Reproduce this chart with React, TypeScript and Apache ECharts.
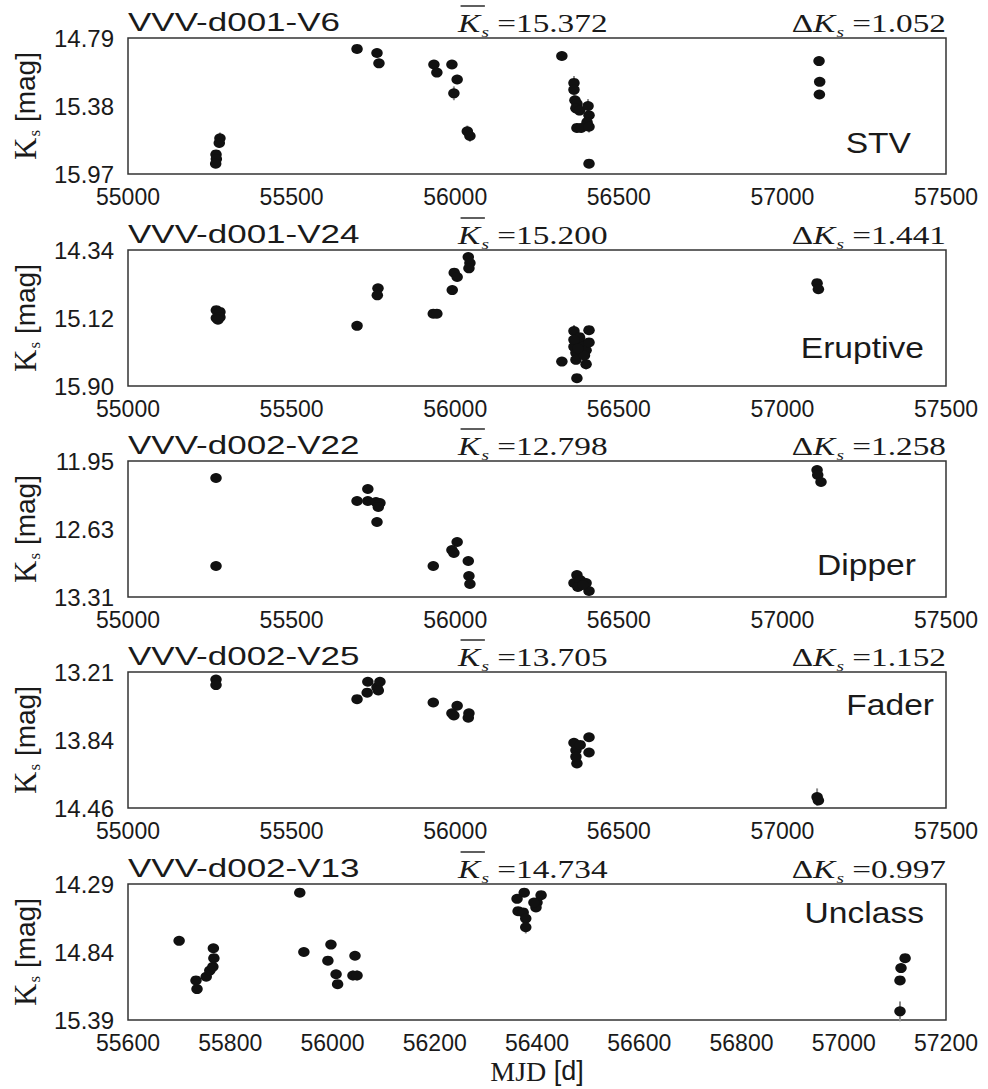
import React, { useEffect, useRef } from "react";
import * as echarts from "echarts";

// ---------- data ----------
const stvMjd = [55269, 55270, 55268, 55281, 55279, 55700, 55761, 55767, 55935, 55944, 55990, 56006, 55996, 56037, 56045, 56326, 56363, 56363, 56366, 56372, 56369, 56380, 56406, 56409, 56403, 56372, 56385, 56409, 56409, 57112, 57114, 57113];
const stvMag = [15.80, 15.84, 15.88, 15.66, 15.70, 14.885, 14.92, 15.01, 15.02, 15.09, 15.02, 15.15, 15.27, 15.60, 15.64, 14.946, 15.18, 15.24, 15.33, 15.36, 15.40, 15.42, 15.38, 15.46, 15.52, 15.57, 15.57, 15.56, 15.88, 14.99, 15.17, 15.28];
const stvErr = [0.03, 0.03, 0.03, 0.05, 0.04, 0.02, 0.02, 0.02, 0.02, 0.03, 0.02, 0.04, 0.06, 0.05, 0.05, 0.02, 0.06, 0.05, 0.04, 0.05, 0.04, 0.04, 0.06, 0.05, 0.05, 0.04, 0.04, 0.05, 0.03, 0.02, 0.02, 0.02];

const eruMjd = [55270, 55281, 55270, 55281, 55275, 55700, 55764, 55762, 55933, 55944, 55991, 55997, 56006, 56040, 56045, 56042, 56326, 56363, 56409, 56372, 56363, 56369, 56385, 56400, 56400, 56369, 56380, 56409, 56363, 56395, 56375, 57106, 57110];
const eruMag = [15.03, 15.05, 15.12, 15.11, 15.14, 15.21, 14.78, 14.86, 15.07, 15.07, 14.80, 14.60, 14.65, 14.42, 14.49, 14.55, 15.62, 15.27, 15.26, 15.81, 15.45, 15.52, 15.41, 15.49, 15.65, 15.60, 15.34, 15.40, 15.37, 15.55, 15.47, 14.72, 14.79];
const eruErr = [0.03, 0.03, 0.03, 0.03, 0.03, 0.03, 0.03, 0.03, 0.02, 0.02, 0.03, 0.03, 0.03, 0.03, 0.03, 0.03, 0.03, 0.07, 0.05, 0.04, 0.06, 0.06, 0.05, 0.06, 0.06, 0.05, 0.05, 0.05, 0.06, 0.05, 0.05, 0.02, 0.02];

const dipMjd = [55269, 55269, 55700, 55733, 55733, 55758, 55770, 55765, 55761, 55933, 56006, 55990, 55996, 56040, 56042, 56045, 56372, 56363, 56382, 56400, 56409, 56375, 56390, 57106, 57108, 57118];
const dipMag = [12.12, 13.00, 12.35, 12.23, 12.35, 12.36, 12.37, 12.41, 12.56, 13.00, 12.76, 12.84, 12.87, 12.95, 13.10, 13.18, 13.09, 13.17, 13.14, 13.17, 13.25, 13.21, 13.19, 12.04, 12.09, 12.16];
const dipErr = [0.02, 0.04, 0.02, 0.02, 0.02, 0.02, 0.02, 0.02, 0.02, 0.02, 0.02, 0.02, 0.02, 0.03, 0.02, 0.02, 0.02, 0.02, 0.02, 0.02, 0.02, 0.02, 0.02, 0.02, 0.02, 0.02];

const fadMjd = [55269, 55269, 55700, 55731, 55733, 55761, 55770, 55765, 55933, 56006, 55990, 55996, 56042, 56040, 56409, 56363, 56369, 56409, 56372, 56369, 56382, 57106, 57110];
const fadMag = [13.28, 13.33, 13.46, 13.40, 13.30, 13.35, 13.30, 13.38, 13.49, 13.52, 13.59, 13.61, 13.59, 13.63, 13.81, 13.86, 13.93, 13.95, 14.05, 13.99, 13.88, 14.36, 14.39];
const fadErr = [0.02, 0.02, 0.02, 0.02, 0.02, 0.02, 0.02, 0.02, 0.02, 0.02, 0.02, 0.03, 0.03, 0.03, 0.02, 0.02, 0.02, 0.02, 0.02, 0.02, 0.02, 0.08, 0.03];

const uncMjd = [55936, 55700, 55733, 55735, 55753, 55760, 55766, 55768, 55767, 55944, 55997, 55991, 56007, 56010, 56044, 56040, 56048, 56375, 56361, 56363, 56373, 56378, 56378, 56408, 56400, 56398, 56394, 57120, 57112, 57110, 57110];
const uncMag = [14.36, 14.75, 15.07, 15.14, 15.04, 14.99, 14.96, 14.89, 14.81, 14.84, 14.78, 14.91, 15.02, 15.10, 14.87, 15.03, 15.03, 14.36, 14.41, 14.51, 14.52, 14.57, 14.64, 14.38, 14.44, 14.48, 14.44, 14.89, 14.97, 15.07, 15.32];
const uncErr = [0.02, 0.02, 0.03, 0.03, 0.03, 0.03, 0.03, 0.03, 0.03, 0.03, 0.02, 0.03, 0.03, 0.03, 0.03, 0.04, 0.04, 0.02, 0.02, 0.02, 0.02, 0.03, 0.05, 0.02, 0.02, 0.02, 0.02, 0.02, 0.02, 0.03, 0.08];

const starNames = ["VVV-d001-V6", "VVV-d001-V24", "VVV-d002-V22", "VVV-d002-V25", "VVV-d002-V13"];
const meanK = ["15.372", "15.200", "12.798", "13.705", "14.734"];
const deltaK = ["1.052", "1.441", "1.258", "1.152", "0.997"];
const classes = ["STV", "Eruptive", "Dipper", "Fader", "Unclass"];
const yTicks = [
  [14.79, 15.38, 15.97],
  [14.34, 15.12, 15.9],
  [11.95, 12.63, 13.31],
  [13.21, 13.84, 14.46],
  [14.29, 14.84, 15.39],
];
const xTicks = [
  [55000, 57500, 500],
  [55000, 57500, 500],
  [55000, 57500, 500],
  [55000, 57500, 500],
  [55600, 57200, 200],
];
const mjdSets = [stvMjd, eruMjd, dipMjd, fadMjd, uncMjd];
const magSets = [stvMag, eruMag, dipMag, fadMag, uncMag];
const errSets = [stvErr, eruErr, dipErr, fadErr, uncErr];

// ---------- layout ----------
const gridTops = [38, 250, 461, 672, 884];
const gridH = 136;
const gridL = 128;
const gridR = 42;
const classRight = [911, 924, 916, 934, 924];
const classCy = [143, 348, 565, 705, 913];

const SANS = "Liberation Sans";
const SERIF = "Liberation Serif";
const INK = "#1a1a1a";

const mathRich = {
  i: { fontFamily: SERIF, fontStyle: "italic", fontSize: 26, fill: INK, lineHeight: 34 },
  sub: { fontFamily: SERIF, fontStyle: "italic", fontSize: 15, fill: INK, lineHeight: 14, verticalAlign: "bottom", padding: [0, 0, 0, 1] },
  r: { fontFamily: SERIF, fontSize: 26, fill: INK, lineHeight: 34 },
};

export default function App() {
  const ref = useRef<HTMLDivElement>(null);
  useEffect(() => {
    const chart = echarts.init(ref.current!, null, { renderer: "svg" });
    const grid: any[] = [];
    const xAxis: any[] = [];
    const yAxis: any[] = [];
    const series: any[] = [];
    const graphic: any[] = [];

    for (let i = 0; i < 5; i++) {
      grid.push({
        left: gridL,
        right: gridR,
        top: gridTops[i],
        height: gridH,
        show: true,
        borderColor: "#333",
        borderWidth: 1.5,
        backgroundColor: "#fff",
      });
      const xt = xTicks[i];
      xAxis.push({
        gridIndex: i,
        type: "value",
        min: xt[0],
        max: xt[1],
        interval: xt[2],
        axisLine: { show: false },
        axisTick: { show: false },
        splitLine: { show: false },
        axisLabel: {
          fontSize: 23,
          fontFamily: SANS,
          color: INK,
          margin: 11,
          formatter: (v: number) => String(v),
        },
        ...(i === 4
          ? {
              name: "{m|MJD} {d|[d]}",
              nameLocation: "middle",
              nameGap: 37,
              nameTextStyle: {
                rich: {
                  m: { fontFamily: SERIF, fontSize: 28, color: INK },
                  d: { fontFamily: SANS, fontSize: 27, color: INK, padding: [0, 0, 0, 4] },
                },
              },
            }
          : {}),
      });
      const yt = yTicks[i];
      yAxis.push({
        gridIndex: i,
        type: "value",
        inverse: true,
        min: yt[0],
        max: yt[2],
        axisLine: { show: false },
        axisTick: { show: false },
        splitLine: { show: false },
        axisLabel: {
          customValues: yt,
          fontSize: 24,
          fontFamily: SANS,
          color: INK,
          margin: 14,
          formatter: (v: number) => v.toFixed(2),
        },
        name: "{k|K}{s|s}{m| [mag]}",
        nameLocation: "middle",
        nameRotate: 90,
        nameGap: 82,
        nameTextStyle: {
          rich: {
            k: { fontFamily: SERIF, fontSize: 31, color: INK, lineHeight: 36 },
            s: { fontFamily: SERIF, fontSize: 17, color: INK, lineHeight: 16, verticalAlign: "bottom", padding: [0, 0, 0, 1] },
            m: { fontFamily: SANS, fontSize: 28, color: INK, lineHeight: 36 },
          },
        },
      });

      const mjd = mjdSets[i];
      const mag = magSets[i];
      const err = errSets[i];
      const pts = mjd.map((x, j) => [x, mag[j], err[j]]);
      series.push({
        type: "custom",
        xAxisIndex: i,
        yAxisIndex: i,
        z: 1,
        data: pts,
        encode: { x: 0, y: 1 },
        renderItem: (params: any, api: any) => {
          const x = api.value(0);
          const y = api.value(1);
          const e = api.value(2);
          const p1 = api.coord([x, y - e]);
          const p2 = api.coord([x, y + e]);
          return {
            type: "line",
            shape: { x1: p1[0], y1: p1[1], x2: p2[0], y2: p2[1] },
            style: { stroke: "#8a8a8a", lineWidth: 2 },
          };
        },
      });
      series.push({
        type: "scatter",
        xAxisIndex: i,
        yAxisIndex: i,
        z: 2,
        symbol: "circle",
        symbolSize: [11.5, 10],
        itemStyle: { color: "#111", opacity: 1 },
        data: pts.map((p) => [p[0], p[1]]),
      });

      const top = gridTops[i];
      graphic.push({
        type: "text",
        x: gridL,
        y: top - 16,
        scaleX: 1.4,
        style: {
          text: starNames[i],
          fontFamily: SANS,
          fontSize: 25,
          fill: INK,
          align: "left",
          verticalAlign: "middle",
        },
      });
      graphic.push({
        type: "group",
        x: 458,
        y: top - 15,
        scaleX: 1.28,
        children: [
          {
            type: "text",
            x: 0,
            y: 0,
            style: {
              text: "{i|K}{sub|s}{r| =" + meanK[i] + "}",
              align: "left",
              verticalAlign: "middle",
              rich: mathRich,
            },
          },
          {
            type: "line",
            shape: { x1: 2, y1: -17, x2: 21, y2: -17 },
            style: { stroke: INK, lineWidth: 1.4 },
          },
        ],
      });
      graphic.push({
        type: "text",
        x: 946,
        y: top - 15,
        scaleX: 1.28,
        style: {
          text: "{r|Δ}{i|K}{sub|s}{r| =" + deltaK[i] + "}",
          align: "right",
          verticalAlign: "middle",
          rich: mathRich,
        },
      });
      graphic.push({
        type: "text",
        x: classRight[i],
        y: classCy[i],
        scaleX: 1.12,
        z: 10,
        style: {
          text: classes[i],
          fontFamily: SANS,
          fontSize: 30,
          fill: INK,
          align: "right",
          verticalAlign: "middle",
        },
      });
    }

    chart.setOption({
      animation: false,
      backgroundColor: "#fff",
      grid,
      xAxis,
      yAxis,
      series,
      graphic,
    });
    return () => chart.dispose();
  }, []);
  return (
    <div
      ref={ref}
      style={{ position: "absolute", left: 0, top: 0, width: 988, height: 1089, background: "#fff" }}
    />
  );
}
